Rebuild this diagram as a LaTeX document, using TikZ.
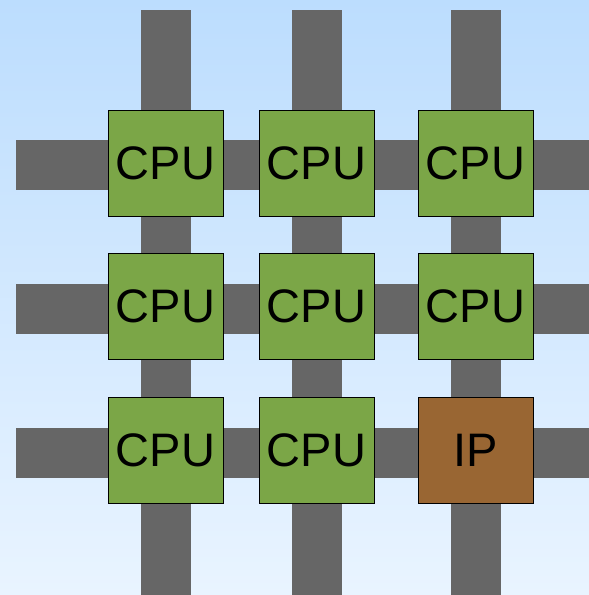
\documentclass[tikz,border=0pt]{standalone}
\usepackage{fontspec}
\setmainfont{Liberation Sans}
\definecolor{bgtop}{HTML}{BCDDFE}
\definecolor{bgbot}{HTML}{E9F4FF}
\definecolor{bar}{HTML}{666666}
\definecolor{cpugreen}{HTML}{7BA647}
\definecolor{ipbrown}{HTML}{996633}
\tikzset{
  barv/.style={fill=bar},
  chip/.style={draw=black, line width=1pt, minimum width=115pt, minimum height=106pt, inner sep=0pt, font=\fontsize{47}{47}\selectfont, text=black},
  cpu/.style={chip, fill=cpugreen},
  ipc/.style={chip, fill=ipbrown}
}
\begin{document}
\begin{tikzpicture}[x=1pt,y=-1pt]
\useasboundingbox (0,0) rectangle (589,595);
\shade[top color=bgtop, bottom color=bgbot] (0,0) rectangle (589,595);
% vertical bars
\foreach \x in {166,317,476} {
  \fill[barv] (\x-25,10) rectangle (\x+25,595);
}
% horizontal bars
\foreach \y in {165,309,453} {
  \fill[barv] (16,\y-25) rectangle (589,\y+25);
}
\node[cpu] (c11) at (165.5,163) {CPU};
\node[cpu] (c12) at (316.5,163) {CPU};
\node[cpu] (c13) at (475.5,163) {CPU};
\node[cpu] (c21) at (165.5,306.5) {CPU};
\node[cpu] (c22) at (316.5,306.5) {CPU};
\node[cpu] (c23) at (475.5,306.5) {CPU};
\node[cpu] (c31) at (165.5,450) {CPU};
\node[cpu] (c32) at (316.5,450) {CPU};
\node[ipc] (ip) at (475.5,450) {IP};
\end{tikzpicture}
\end{document}
